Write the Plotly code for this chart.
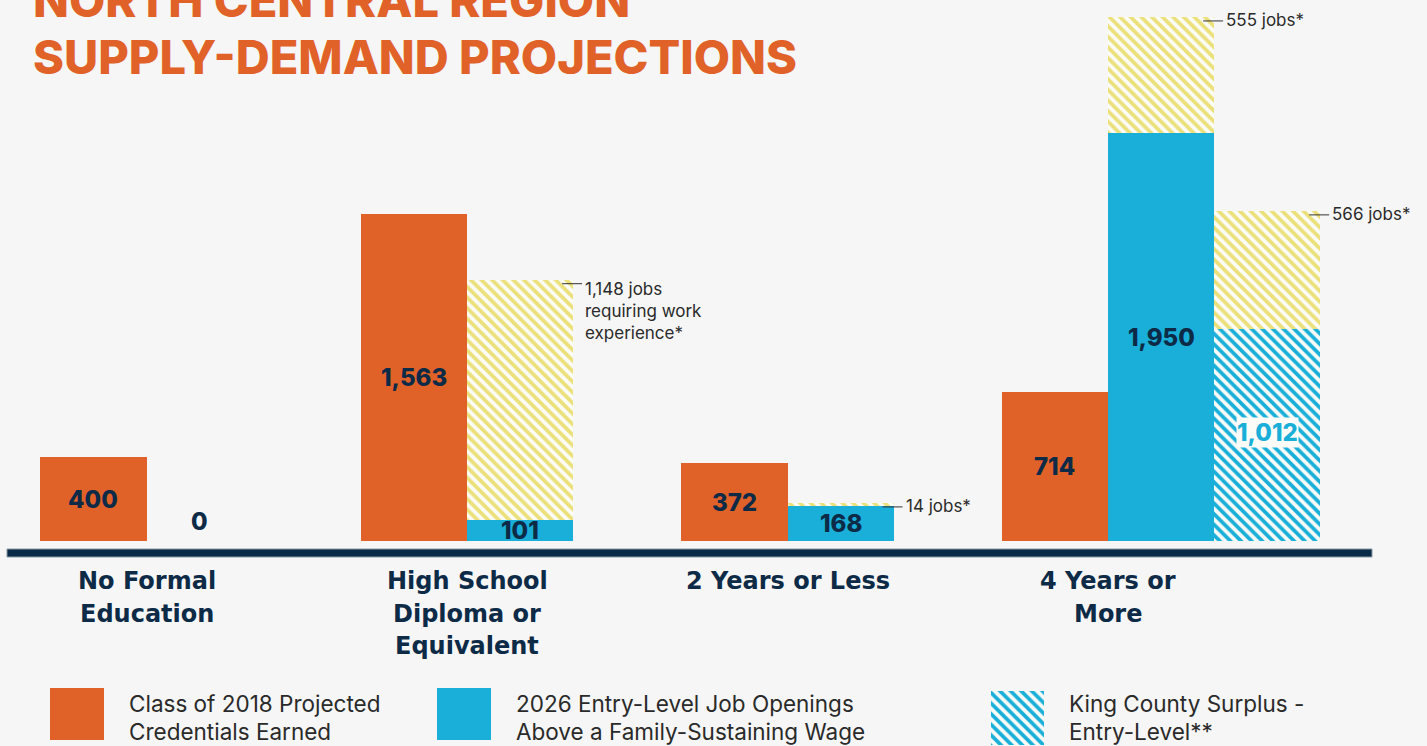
import plotly.graph_objects as go

# ---------------- data ----------------
categories = [["No Formal", "Education"], ["High School", "Diploma or", "Equivalent"],
              ["2 Years or Less"], ["4 Years or", "More"]]
credentials = [400, 1563, 372, 714]          # Class of 2018 projected credentials earned
openings = [0, 101, 168, 1950]               # 2026 entry-level job openings above family-sustaining wage
work_exp = [None, 1148, 14, 555]             # jobs requiring work experience (stacked on openings)
surplus = [None, None, None, 1012]           # King County surplus - entry-level
surplus_work_exp = [None, None, None, 566]   # jobs requiring work experience (stacked on surplus)
work_exp_labels = [None, "1,148 jobs<br>requiring work<br>experience*", "14 jobs*", "555 jobs*"]
surplus_work_exp_labels = [None, None, None, "566 jobs*"]
legend_labels = [["Class of 2018 Projected", "Credentials Earned"],
                 ["2026 Entry-Level Job Openings", "Above a Family-Sustaining Wage"],
                 ["King County Surplus -", "Entry-Level**"]]

# ---------------- style ----------------
W, H = 1427, 746
BG = "#f5f6f5"
ORANGE = "#e16228"
BLUE = "#19afd9"
YELLOW = "#ebe07a"
STRIPE_BG = "#fbfcf8"
NAVY = "#0d2a47"
TXT = "#2a2a2a"
FONT = "Inter"
CAT_FONT = "DejaVu Sans"

BW = 0.331                     # bar width in group units
X0, X1 = -0.4571, 3.9953       # x range (group units)
PLOT_BOTTOM_PX = 541
YMAX = 2586

def py(px):                    # pixel row -> paper y
    return 1 - px / H

idx = list(range(len(categories)))
x_orange = [i - BW / 2 for i in idx]
x_blue = [i + BW / 2 for i in idx]
x_surplus = [i + 1.5 * BW for i in idx]

def stripes(fg):
    return dict(color=STRIPE_BG, line_width=0,
                pattern=dict(shape="\\", fgcolor=fg, bgcolor=STRIPE_BG, fgopacity=1,
                             size=7.5, solidity=0.5))

fig = go.Figure()

fig.add_trace(go.Bar(x=x_orange, y=credentials, width=BW, marker=dict(color=ORANGE, line_width=0),
                     hoverinfo="skip", showlegend=False))
fig.add_trace(go.Bar(x=x_blue, y=openings, width=BW, marker=dict(color=BLUE, line_width=0),
                     hoverinfo="skip", showlegend=False))
fig.add_trace(go.Bar(x=x_blue, y=work_exp, base=openings, width=BW, marker=stripes(YELLOW),
                     hoverinfo="skip", showlegend=False))
fig.add_trace(go.Bar(x=x_surplus, y=surplus, width=BW, marker=stripes(BLUE),
                     hoverinfo="skip", showlegend=False))
fig.add_trace(go.Bar(x=x_surplus, y=surplus_work_exp, base=surplus, width=BW, marker=stripes(YELLOW),
                     hoverinfo="skip", showlegend=False))

ann = []
shapes = []

# value labels
for i in idx:
    ann.append(dict(x=x_orange[i], y=credentials[i] / 2, text=f"{credentials[i]:,}", showarrow=False,
                    font=dict(family=FONT, size=24, color=NAVY, weight=800), xref="x", yref="y"))
    v = openings[i]
    ann.append(dict(x=x_blue[i], y=v / 2, text=f"{v:,}", showarrow=False,
                    yshift=20 if v == 0 else 0,
                    font=dict(family=FONT, size=24, color=NAVY, weight=800), xref="x", yref="y"))
    if surplus[i] is not None:
        ann.append(dict(x=x_surplus[i], y=surplus[i] / 2, text=f"{surplus[i]:,}", showarrow=False,
                        bgcolor=STRIPE_BG, borderpad=0, yshift=3,
                        font=dict(family=FONT, size=24, color=BLUE, weight=800), xref="x", yref="y"))

# callouts
def callout(xc, top, label):
    edge = xc + BW / 2
    shapes.append(dict(type="line", xref="x", yref="y", xsizemode="pixel", ysizemode="pixel",
                       xanchor=edge, yanchor=top, x0=-11, x1=9, y0=-4, y1=-4,
                       line=dict(color="#333333", width=1)))
    multi = "<br>" in label
    ann.append(dict(x=edge, y=top, text=label, showarrow=False, xanchor="left",
                    yanchor="top" if multi else "middle", align="left",
                    xshift=10, yshift=3 if multi else -3,
                    font=dict(family=FONT, size=17, color=TXT), xref="x", yref="y"))

for i in idx:
    if work_exp[i] is not None:
        callout(x_blue[i], openings[i] + work_exp[i], work_exp_labels[i])
    if surplus_work_exp[i] is not None:
        callout(x_surplus[i], surplus[i] + surplus_work_exp[i], surplus_work_exp_labels[i])

# category labels (one annotation per line)
cat_rows = [581, 613.5, 646]
for i in idx:
    for t, ry in zip(categories[i], cat_rows):
        ann.append(dict(x=i, y=py(ry), text=t, showarrow=False, yanchor="middle",
                        xref="x", yref="paper",
                        font=dict(family=CAT_FONT, size=24, color=NAVY, weight=700)))

# baseline bar
shapes.append(dict(type="rect", xref="paper", yref="paper", x0=7 / W, x1=1372 / W,
                   y0=py(557), y1=py(549), fillcolor="#0b2a47",
                   line=dict(color="#8a9aa6", width=1), layer="above"))

# title
ann.append(dict(x=31 / W, y=py(-1), text="NORTH CENTRAL REGION", showarrow=False,
                xanchor="left", yanchor="middle", xref="paper", yref="paper",
                font=dict(family=FONT, size=47, color=ORANGE, weight=800)))
ann.append(dict(x=31 / W, y=py(57), text="SUPPLY-DEMAND PROJECTIONS", showarrow=False,
                xanchor="left", yanchor="middle", xref="paper", yref="paper",
                font=dict(family=FONT, size=47, color=ORANGE, weight=800)))

# legend swatches (second axis in pixel units)
sw_x = [77, 464, 1017.5]
sw_base = [6, 6, 1]
sw_h = [52, 52, 54]
fig.add_trace(go.Bar(x=sw_x[:2], y=sw_h[:2], base=sw_base[:2], width=54, xaxis="x2", yaxis="y2",
                     marker=dict(color=[ORANGE, BLUE], line_width=0), hoverinfo="skip", showlegend=False))
fig.add_trace(go.Bar(x=[sw_x[2]], y=[sw_h[2]], base=[sw_base[2]], width=53, xaxis="x2", yaxis="y2",
                     marker=stripes(BLUE), hoverinfo="skip", showlegend=False))
leg_tx = [130, 517, 1070]
leg_rows = [703, 731]
for lines, lx in zip(legend_labels, leg_tx):
    for t, ry in zip(lines, leg_rows):
        ann.append(dict(x=lx / W, y=py(ry), text=t, showarrow=False, xanchor="left", yanchor="middle",
                        align="left", xref="paper", yref="paper", xshift=-3,
                        font=dict(family=FONT, size=22.5, color=TXT)))

ax_off = dict(showgrid=False, zeroline=False, showticklabels=False, ticks="", showline=False, fixedrange=True)
fig.update_layout(
    width=W, height=H, margin=dict(l=0, r=0, t=0, b=0),
    paper_bgcolor=BG, plot_bgcolor=BG, barmode="overlay", bargap=0,
    xaxis=dict(range=[X0, X1], domain=[0, 1], **ax_off),
    yaxis=dict(range=[0, YMAX], domain=[1 - PLOT_BOTTOM_PX / H, 1], **ax_off),
    xaxis2=dict(range=[0, W], domain=[0, 1], anchor="y2", **ax_off),
    yaxis2=dict(range=[0, 58], domain=[0, 58 / H], anchor="x2", **ax_off),
    annotations=ann, shapes=shapes, showlegend=False,
)

fig.write_html("out.html", config={"displayModeBar": False},
               post_script="document.body.style.margin='0';document.body.style.overflow='hidden';")
